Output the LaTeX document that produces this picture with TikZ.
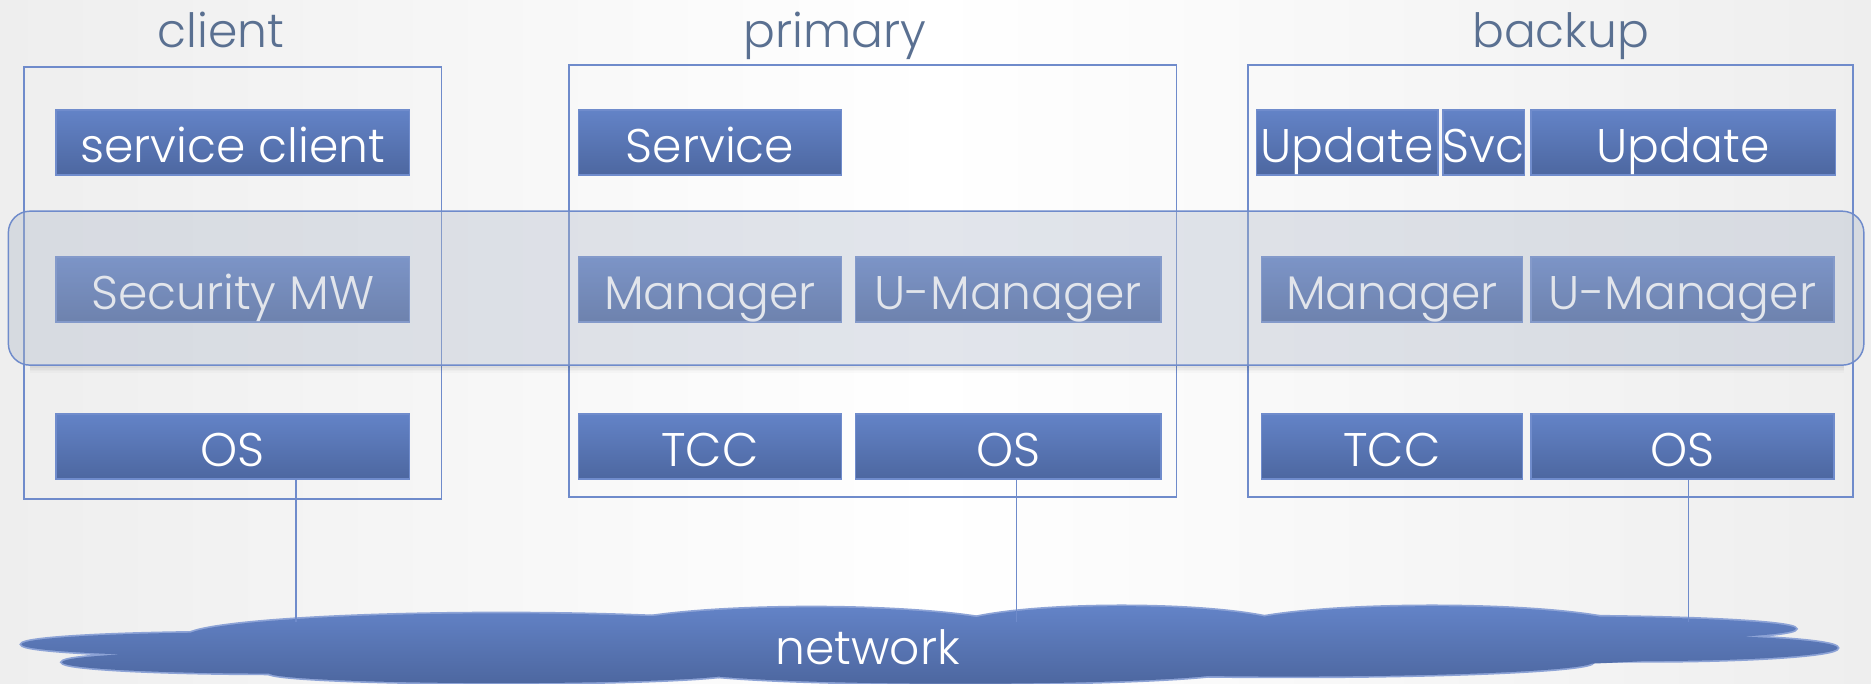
\documentclass[tikz,border=0pt]{standalone}
\usepackage{fontspec}
\setmainfont{Poppins Light}

\definecolor{boxtop}{RGB}{99,131,199}
\definecolor{boxbot}{RGB}{77,103,160}
\definecolor{boxedge}{RGB}{112,140,204}
\definecolor{frameblue}{RGB}{111,139,203}
\definecolor{labelgray}{RGB}{90,112,145}
\definecolor{bandgray}{RGB}{172,182,200}
\definecolor{bgside}{RGB}{238,238,238}

\newcommand{\txt}{\fontsize{22.5}{27}\selectfont}

\begin{document}
\begin{tikzpicture}[
  block/.style = {draw = boxedge, line width = 0.6pt, top color = boxtop, bottom color = boxbot,
    text = white, font = \txt, minimum height = 1.09cm, inner sep = 0pt,
    text height = 0.76cm, text depth = 0.1cm},
  frame/.style = {draw = frameblue, line width = 0.7pt, inner sep = 0pt},
  title/.style = {anchor = base, text = labelgray, font = \txt},
  wire/.style = {draw = frameblue, line width = 0.7pt}]
\useasboundingbox (0,0) rectangle (31.36,11.46);
\shade[left color = bgside, right color = bgside, middle color = white] (0,0) rectangle (31.36,11.46);

% network cloud
\foreach \cx/\cy/\rx/\ry in {4/0.66/3.64/0.2, 4.6/0.36/3.56/0.19, 8.4/0.78/5.3/0.4, 8.4/0.18/3.9/0.17,
  13.6/0.86/3.5/0.42, 18.8/0.9/2.9/0.4, 24/0.9/3.4/0.4, 26/0.92/4.1/0.21,
  27.6/0.6/3.2/0.22, 21.6/0.36/5.1/0.24, 16.1/0.22/4.56/0.22}
  \draw[boxedge!80, line width = 1.6pt] (\cx,\cy) ellipse [x radius = \rx, y radius = \ry];
\shade[top color = boxtop, bottom color = boxbot]
  \foreach \cx/\cy/\rx/\ry in {4/0.66/3.64/0.2, 4.6/0.36/3.56/0.19, 8.4/0.78/5.3/0.4, 8.4/0.18/3.9/0.17,
  13.6/0.86/3.5/0.42, 18.8/0.9/2.9/0.4, 24/0.9/3.4/0.4, 26/0.92/4.1/0.21,
  27.6/0.6/3.2/0.22, 21.6/0.36/5.1/0.24, 16.1/0.22/4.56/0.22,
  15.5/0.62/11/0.42, 8/0.5/5/0.3, 24.5/0.6/4.5/0.3}
  {(\cx,\cy) ellipse [x radius = \rx, y radius = \ry]};
\node[text = white, font = \txt] (net) at (14.54,0.62) {network};

% hosts
\node[frame, minimum width = 7cm, minimum height = 7.24cm] (client) at (3.9,6.716) {};
\node[frame, minimum width = 10.18cm, minimum height = 7.24cm] (primary) at (14.63,6.75) {};
\node[frame, minimum width = 10.14cm, minimum height = 7.24cm] (backup) at (25.99,6.75) {};
\node[title] (tclient) at (3.7,10.66) {client};
\node[title] (tprimary) at (14,10.66) {primary};
\node[title] (tbackup) at (26.16,10.66) {backup};

% client stack
\node[block, minimum width = 5.92cm] (svcclient) at (3.9,9.071) {service client};
\node[block, minimum width = 5.92cm] (secmw) at (3.9,6.607) {Security MW};
\node[block, minimum width = 5.92cm] (os1) at (3.9,3.976) {OS};

% primary stack
\node[block, minimum width = 4.4cm] (svc) at (11.9,9.071) {Service};
\node[block, minimum width = 4.4cm] (mgr1) at (11.9,6.607) {Manager};
\node[block, minimum width = 5.12cm] (umgr1) at (16.9,6.607) {U-Manager};
\node[block, minimum width = 4.4cm] (tcc1) at (11.9,3.976) {TCC};
\node[block, minimum width = 5.12cm] (os2) at (16.9,3.976) {OS};

% backup stack
\node[block, minimum width = 3.04cm] (upd1) at (22.58,9.071) {Update};
\node[block, minimum width = 1.34cm] (svc2) at (24.87,9.071) {Svc};
\node[block, minimum width = 5.1cm] (upd2) at (28.21,9.071) {Update};
\node[block, minimum width = 4.38cm] (mgr2) at (23.33,6.607) {Manager};
\node[block, minimum width = 5.08cm] (umgr2) at (28.2,6.607) {U-Manager};
\node[block, minimum width = 4.38cm] (tcc2) at (23.33,3.976) {TCC};
\node[block, minimum width = 5.08cm] (os3) at (28.2,3.976) {OS};

% middleware layer, with a soft shadow under it
\foreach \dy/\op in {0.03/0.10, 0.06/0.07, 0.09/0.04, 0.12/0.02}
  \draw[black, opacity = \op, line width = 0.9pt] (0.5,5.34-\dy) -- (30.9,5.34-\dy);
\node[draw = frameblue, line width = 0.7pt, fill = bandgray, fill opacity = 0.35, rounded corners = 0.36cm,
  minimum width = 31.1cm, minimum height = 2.58cm] (layer) at (15.69,6.63) {};

% links
\coordinate (n1) at (4.96,1.04);
\coordinate (n2) at (17.04,1.04);
\coordinate (n3) at (28.3,1.04);
\draw[wire] (os1.south -| n1) -- (n1);
\draw[wire] (os2.south -| n2) -- (n2);
\draw[wire] (os3.south -| n3) -- (n3);
\end{tikzpicture}
\end{document}
